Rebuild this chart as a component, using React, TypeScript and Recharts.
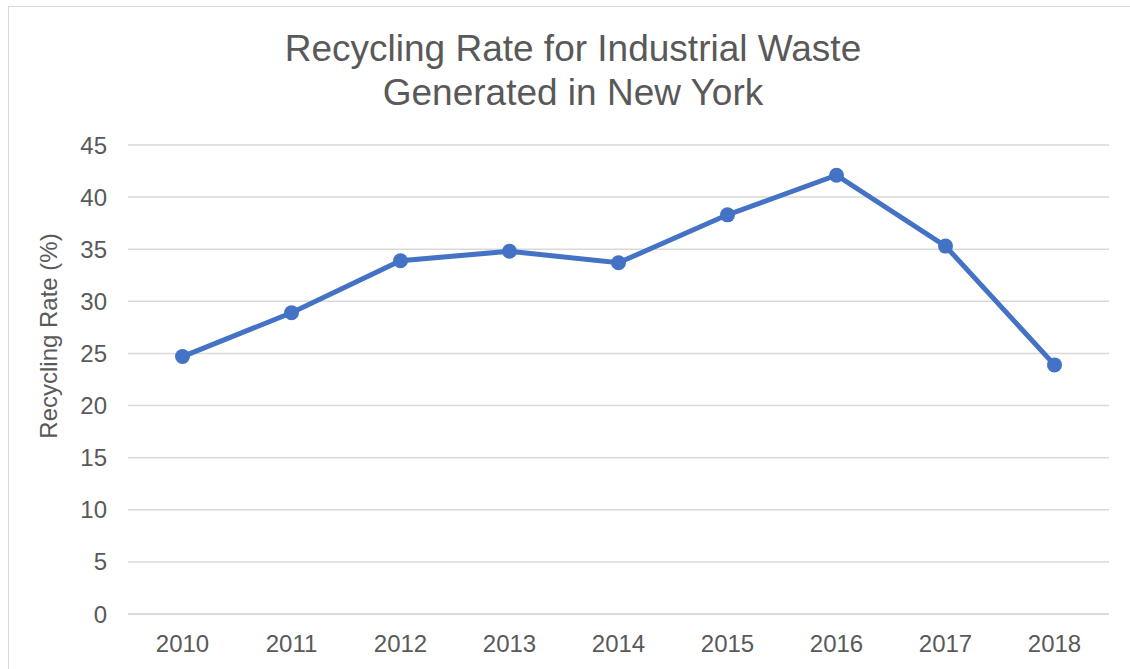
import { LineChart, Line, XAxis, YAxis, CartesianGrid } from "recharts";

const years = ["2010", "2011", "2012", "2013", "2014", "2015", "2016", "2017", "2018"];
const recyclingRate = [24.7, 28.9, 33.9, 34.8, 33.7, 38.3, 42.1, 35.3, 23.9];
const yTicks = [0, 5, 10, 15, 20, 25, 30, 35, 40, 45];

const titleLines = ["Recycling Rate for Industrial Waste", "Generated in New York"];
const yLabel = "Recycling Rate (%)";

const data = years.map((year, i) => ({ year, rate: recyclingRate[i] }));

const FONT = "'Liberation Sans', Arial, sans-serif";
const TEXT = "#595959";
const GRID = "#d9d9d9";
const BLUE = "#4472C4";

function YTick({ y, payload }: any) {
  return (
    <text x={107} y={y} dy={8.5} textAnchor="end" fontSize={24} fontFamily={FONT} fill={TEXT}>
      {payload.value}
    </text>
  );
}

function XTick({ x, payload }: any) {
  return (
    <text x={x} y={652} textAnchor="middle" fontSize={24} fontFamily={FONT} fill={TEXT}>
      {payload.value}
    </text>
  );
}

export default function App() {
  return (
    <div style={{ position: "fixed", left: 0, top: 0, width: 1130, height: 669, overflow: "hidden", background: "#fff" }}>
      {/* chart frame, cropped on the right and bottom like the source */}
      <div
        style={{
          position: "absolute",
          left: 8,
          top: 6,
          width: 1140,
          height: 680,
          border: `1.5px solid ${GRID}`,
        }}
      />
      <div style={{ position: "absolute", left: 0, top: 0 }}>
        <LineChart width={1130} height={669} data={data} margin={{ top: 145, right: 21, left: 0, bottom: 0 }}>
          <CartesianGrid vertical={false} stroke={GRID} strokeWidth={1.5} />
          <XAxis
            dataKey="year"
            scale="band"
            height={55}
            axisLine={{ stroke: GRID, strokeWidth: 1.5 }}
            tickLine={false}
            tick={<XTick />}
            interval={0}
          />
          <YAxis
            width={128}
            domain={[0, 45]}
            ticks={yTicks}
            axisLine={false}
            tickLine={false}
            tick={<YTick />}
            interval={0}
          />
          <Line
            type="linear"
            dataKey="rate"
            stroke={BLUE}
            strokeWidth={5}
            dot={{ r: 7.5, fill: BLUE, stroke: "none" }}
            activeDot={false}
            isAnimationActive={false}
          />
        </LineChart>
      </div>
      <svg width={1130} height={669} style={{ position: "absolute", left: 0, top: 0, pointerEvents: "none" }}>
        {titleLines.map((line, i) => (
          <text key={i} x={573} y={61 + i * 44} textAnchor="middle" fontSize={37} fontFamily={FONT} fill={TEXT}>
            {line}
          </text>
        ))}
        <text
          x={57}
          y={336}
          transform="rotate(-90 57 336)"
          textAnchor="middle"
          fontSize={24}
          fontFamily={FONT}
          fill={TEXT}
        >
          {yLabel}
        </text>
      </svg>
    </div>
  );
}
